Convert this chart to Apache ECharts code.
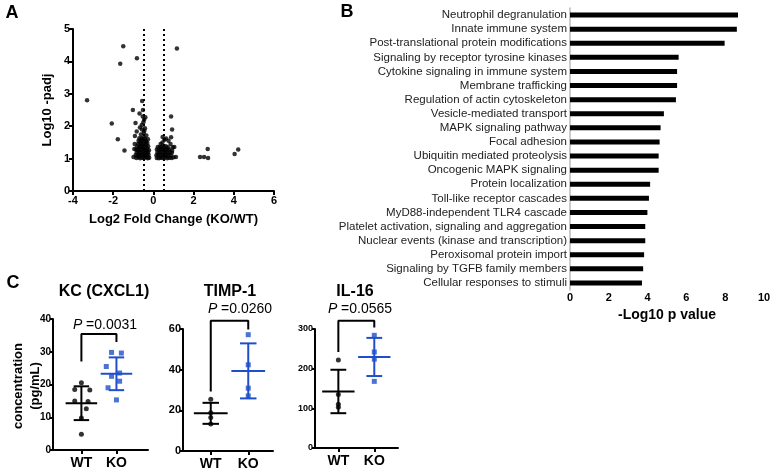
<!DOCTYPE html>
<html>
<head>
<meta charset="utf-8">
<script src="https://cdn.jsdelivr.net/npm/echarts@6/dist/echarts.min.js"></script>
<style>
html,body{margin:0;padding:0;background:#fff;}
#chartmain{width:775px;height:473px;}
</style>
</head>
<body>
<div id="chartmain"></div>
<script>
//A 火山图数据 (log2FC, -log10 padj)
var volcanoLeft = [
	[-0.85,1.02],[-0.74,1.04],[-0.66,1.01],[-0.55,1.03],[-0.46,1.02],[-0.36,1.05],[-0.28,1.01],[-0.21,1.03],
	[-0.88,1.11],[-0.79,1.09],[-0.7,1.12],[-0.61,1.1],[-0.51,1.13],[-0.42,1.09],[-0.33,1.11],[-0.24,1.12],
	[-0.83,1.19],[-0.73,1.2],[-0.64,1.17],[-0.53,1.21],[-0.44,1.18],[-0.35,1.2],[-0.27,1.19],
	[-0.86,1.28],[-0.77,1.26],[-0.68,1.29],[-0.58,1.27],[-0.48,1.3],[-0.39,1.27],[-0.3,1.28],[-0.22,1.26],
	[-0.81,1.37],[-0.71,1.35],[-0.62,1.38],[-0.53,1.36],[-0.43,1.37],[-0.34,1.35],[-0.26,1.38],
	[-0.76,1.45],[-0.66,1.47],[-0.57,1.44],[-0.47,1.46],[-0.38,1.45],[-0.3,1.48],
	[-0.74,1.55],[-0.64,1.54],[-0.55,1.57],[-0.45,1.55],[-0.36,1.53],
	[-0.7,1.63],[-0.6,1.62],[-0.5,1.64],[-0.41,1.61],
	[-0.62,1.74],[-0.48,1.79],[-0.57,1.9],[-0.67,1.96],[-0.42,1.94],[-0.58,2.04],[-0.5,2.12],
	[-0.46,2.2],[-0.4,2.28],[-0.53,2.3],[-0.89,2.1],[-0.83,1.84],[-0.92,1.7],[-0.95,1.3],
	[-0.99,1.05],[-0.35,1.71],[-0.56,2.78],[-0.69,2.39],[-0.52,2.5],[-0.45,1.86],[-0.93,1.45],[-0.27,1.6]
];
var volcanoRight = [
	[0.17,1.02],[0.27,1.01],[0.37,1.03],[0.47,1.02],[0.58,1.04],[0.68,1.01],[0.78,1.03],[0.9,1.02],[1.0,1.04],
	[0.15,1.1],[0.24,1.12],[0.35,1.09],[0.45,1.11],[0.55,1.1],[0.65,1.12],[0.75,1.09],[0.86,1.11],
	[0.2,1.19],[0.3,1.18],[0.4,1.2],[0.5,1.19],[0.6,1.21],[0.7,1.18],[0.8,1.2],[0.92,1.18],
	[0.17,1.28],[0.27,1.27],[0.37,1.29],[0.47,1.28],[0.57,1.26],[0.67,1.29],[0.78,1.27],
	[0.22,1.36],[0.32,1.35],[0.42,1.37],[0.52,1.36],[0.62,1.38],[0.72,1.35],
	[0.36,1.45],[0.46,1.67],[0.55,1.58],[0.63,1.62],[0.75,1.55],[0.88,1.66],[0.85,1.45],
	[0.96,1.35],[1.04,1.36],[1.12,1.05],[0.93,1.25],[0.45,1.5]
];
var volcanoOutliers = [
	[-3.3,2.8],[-1.5,4.47],[-1.65,3.93],[-0.82,4.1],[1.17,4.4],[-2.07,2.08],[-1.77,1.6],[-1.44,1.25],
	[-1.02,2.5],[0.88,2.3],[0.93,1.9],[2.32,1.05],[2.52,1.05],[2.72,1.02],[2.7,1.3],[4.04,1.14],[4.22,1.28]
];
var foldCutoffs = [-0.5, 0.5];

//B 通路富集
var pathways = ['Neutrophil degranulation','Innate immune system','Post-translational protein modifications',
	'Signaling by receptor tyrosine kinases','Cytokine signaling in immune system','Membrane trafficking',
	'Regulation of actin cytoskeleton','Vesicle-mediated transport','MAPK signaling pathway','Focal adhesion',
	'Ubiquitin mediated proteolysis','Oncogenic MAPK signaling','Protein localization','Toll-like receptor cascades',
	'MyD88-independent TLR4 cascade','Platelet activation, signaling and aggregation',
	'Nuclear events (kinase and transcription)','Peroxisomal protein import','Signaling by TGFB family members',
	'Cellular responses to stimuli'];
var pathwayLogP = [8.66,8.6,7.97,5.6,5.52,5.52,5.46,4.84,4.67,4.62,4.57,4.57,4.13,4.07,3.99,3.88,3.88,3.82,3.77,3.71];

//C 细胞因子浓度 (x: 1=WT 2=KO)
var kcWT = [[1.0,20.5],[0.81,18.5],[1.24,18.3],[0.81,15],[1.19,14.8],[1.14,12.6],[1.0,9.8],[1.0,4.8]];
var kcKO = [[1.86,29.8],[2.14,29.6],[1.71,25.5],[2.09,23.5],[1.86,22.5],[2.09,21],[1.76,19],[2.0,15.3]];
var timpWT = [[1,25.5],[1,18.8],[1,16.5],[1,13.3]];
var timpKO = [[2,57.2],[2,42.4],[2,30.9],[2,27.1]];
var il16WT = [[1,222],[1,135],[1,110],[1,103]];
var il16KO = [[2,284],[2,242],[2,224],[2,168]];
var kcBracket = [[1,27],[1,35.4],[2,35.4],[2,33]];
var timpBracket = [[1,29.3],[1,64],[2,64],[2,59.7]];
var il16Bracket = [[1,242],[1,321],[2,321],[2,304]];
var pValues = ['0.0031','0.0260','0.0565'];
var groupNames = ['WT','KO'];

var FONT = '"Liberation Sans", Arial, sans-serif';
var BLUE = '#1f4fc8';

function meanSd(pts){
	var m = 0, v = 0;
	for(var i=0;i<pts.length;i++){ m += pts[i][1]; }
	m = m/pts.length;
	for(var i=0;i<pts.length;i++){ v += (pts[i][1]-m)*(pts[i][1]-m); }
	return [m, Math.sqrt(v/(pts.length-1))];
}
function errData(wt, ko){
	var a = meanSd(wt), b = meanSd(ko);
	return [{value:[1,a[0],a[1]],itemStyle:{color:'#000'}},{value:[2,b[0],b[1]],itemStyle:{color:BLUE}}];
}
//均值 ± SD 误差线
function errRender(params, api){
	var x = api.value(0), m = api.value(1), s = api.value(2);
	var c = api.visual('color');
	function seg(x1,y1,x2,y2){
		var p1 = api.coord([x1,y1]), p2 = api.coord([x2,y2]);
		return {type:'line',shape:{x1:p1[0],y1:p1[1],x2:p2[0],y2:p2[1]},style:{stroke:c,lineWidth:2}};
	}
	return {type:'group',children:[
		seg(x-0.45,m,x+0.45,m),
		seg(x,m-s,x,m+s),
		seg(x-0.22,m+s,x+0.22,m+s),
		seg(x-0.22,m-s,x+0.22,m-s)
	]};
}

function cXAxis(idx, min, max){
	return {gridIndex:idx,type:'value',min:min,max:max,splitLine:{show:false},
		axisLine:{onZero:false,lineStyle:{color:'#000',width:2}},
		axisTick:{customValues:[1,2],length:4,lineStyle:{width:2,color:'#000'}},
		axisLabel:{customValues:[1,2],margin:6,color:'#000',fontWeight:'bold',fontSize:14,fontFamily:FONT,
			formatter:function(v){return groupNames[Math.round(v)-1];}}};
}
function cYAxis(idx, max, interval, fs){
	return {gridIndex:idx,type:'value',min:0,max:max,interval:interval,splitLine:{show:false},
		axisLine:{show:true,lineStyle:{color:'#000',width:2}},
		axisTick:{length:3,lineStyle:{width:2,color:'#000'}},
		axisLabel:{margin:2,color:'#000',fontWeight:'bold',fontSize:fs,fontFamily:FONT}};
}
function dotSeries(idx, data, color, symbol){
	return {type:'scatter',xAxisIndex:idx,yAxisIndex:idx,data:data,symbol:symbol,symbolSize:5,
		itemStyle:{color:color},silent:true};
}
function bracketSeries(idx, data){
	return {type:'line',xAxisIndex:idx,yAxisIndex:idx,data:data,symbol:'none',clip:false,
		lineStyle:{color:'#000',width:2},silent:true};
}
function errSeries(idx, wt, ko){
	return {type:'custom',xAxisIndex:idx,yAxisIndex:idx,data:errData(wt,ko),renderItem:errRender,clip:false,silent:true};
}
function txt(x,y,text,size,weight){
	return {type:'text',silent:true,style:{x:x,y:y,text:text,fill:'#000',
		font:(weight||'normal')+' '+size+'px '+FONT,align:'center',verticalAlign:'middle'}};
}
function pText(x,y,p){
	return {type:'text',silent:true,style:{x:x,y:y,align:'center',verticalAlign:'middle',
		text:'{i|P} =' + p,fill:'#000',fontSize:14,fontFamily:FONT,
		rich:{i:{fontStyle:'italic',fontSize:14,fontFamily:FONT,fill:'#000'}}}};
}

var myChart = echarts.init(document.getElementById('chartmain'));

myChart.setOption({
	animation:false,
	backgroundColor:'#fff',
	grid:[
		{left:73,top:29,width:201,height:162,containLabel:false,outerBoundsMode:'none'},
		{left:570,top:8,width:194,height:282,containLabel:false,outerBoundsMode:'none'},
		{left:53,top:319,width:95,height:131,containLabel:false,outerBoundsMode:'none'},
		{left:183,top:329,width:90,height:122,containLabel:false,outerBoundsMode:'none'},
		{left:315,top:329,width:83,height:119,containLabel:false,outerBoundsMode:'none'}
	],
	xAxis:[
		{gridIndex:0,type:'value',min:-4,max:6,interval:2,splitLine:{show:false},
			axisLine:{onZero:false,lineStyle:{color:'#000',width:2}},
			axisTick:{length:4,lineStyle:{color:'#000',width:2}},
			axisLabel:{margin:4,color:'#000',fontWeight:'bold',fontSize:11,fontFamily:FONT},
			name:'Log2 Fold Change (KO/WT)',nameLocation:'middle',nameGap:22,
			nameTextStyle:{color:'#000',fontWeight:'bold',fontSize:13,fontFamily:FONT}},
		{gridIndex:1,type:'value',min:0,max:10,interval:2,splitLine:{show:false},
			axisLine:{onZero:false,lineStyle:{color:'#aaa',width:1.5}},
			axisTick:{length:2,lineStyle:{color:'#aaa'}},
			axisLabel:{margin:2,color:'#000',fontWeight:'bold',fontSize:11,fontFamily:FONT},
			name:'-Log10 p value',nameLocation:'middle',nameGap:16,
			nameTextStyle:{color:'#000',fontWeight:'bold',fontSize:14,fontFamily:FONT}},
		cXAxis(2,0.19,2.9),
		cXAxis(3,0.26,2.66),
		cXAxis(4,0.35,2.66)
	],
	yAxis:[
		{gridIndex:0,type:'value',min:0,max:5,interval:1,splitLine:{show:false},
			axisLine:{show:true,onZero:false,lineStyle:{color:'#000',width:2}},
			axisTick:{show:true,length:4,lineStyle:{color:'#000',width:2}},
			axisLabel:{margin:3,color:'#000',fontWeight:'bold',fontSize:11,fontFamily:FONT},
			name:'Log10 -padj',nameLocation:'middle',nameGap:19,
			nameTextStyle:{color:'#000',fontWeight:'bold',fontSize:13,fontFamily:FONT}},
		{gridIndex:1,type:'category',inverse:true,data:pathways,
			axisLine:{show:true,lineStyle:{color:'#bbb',width:1.5}},
			axisTick:{show:false},
			axisLabel:{interval:0,margin:3,color:'#222',fontSize:11.5,fontFamily:FONT}},
		cYAxis(2,40,10,10),
		cYAxis(3,60,20,11),
		cYAxis(4,300,100,9)
	],
	graphic:[
		txt(12,13,'A',18,'bold'),
		txt(347,12,'B',18,'bold'),
		txt(13,283,'C',18,'bold'),
		txt(104,292,'KC (CXCL1)',16,'bold'),
		txt(230,292,'TIMP-1',16,'bold'),
		txt(355,292,'IL-16',16,'bold'),
		pText(105,325,pValues[0]),
		pText(240,309,pValues[1]),
		pText(360,309,pValues[2]),
		{type:'text',silent:true,x:27,y:386,rotation:Math.PI/2,
			style:{x:0,y:0,text:'concentration\n(pg/mL)',align:'center',verticalAlign:'middle',
				fill:'#000',font:'bold 13px '+FONT,lineHeight:17}}
	],
	series:[
		{type:'scatter',xAxisIndex:0,yAxisIndex:0,data:volcanoLeft.concat(volcanoRight).concat(volcanoOutliers),
			symbolSize:4.5,itemStyle:{color:'#000'},silent:true,
			markLine:{silent:true,symbol:['none','none'],label:{show:false},
				lineStyle:{color:'#000',width:2,type:[2,3]},
				data:[{xAxis:foldCutoffs[0]},{xAxis:foldCutoffs[1]}]}},
		{type:'bar',xAxisIndex:1,yAxisIndex:1,data:pathwayLogP,barWidth:5,itemStyle:{color:'#000'},silent:true},
		bracketSeries(2,kcBracket),
		dotSeries(2,kcWT,'#000','circle'),
		dotSeries(2,kcKO,BLUE,'rect'),
		errSeries(2,kcWT,kcKO),
		bracketSeries(3,timpBracket),
		dotSeries(3,timpWT,'#000','circle'),
		dotSeries(3,timpKO,BLUE,'rect'),
		errSeries(3,timpWT,timpKO),
		bracketSeries(4,il16Bracket),
		dotSeries(4,il16WT,'#000','circle'),
		dotSeries(4,il16KO,BLUE,'rect'),
		errSeries(4,il16WT,il16KO)
	]
});
</script>
</body>
</html>
